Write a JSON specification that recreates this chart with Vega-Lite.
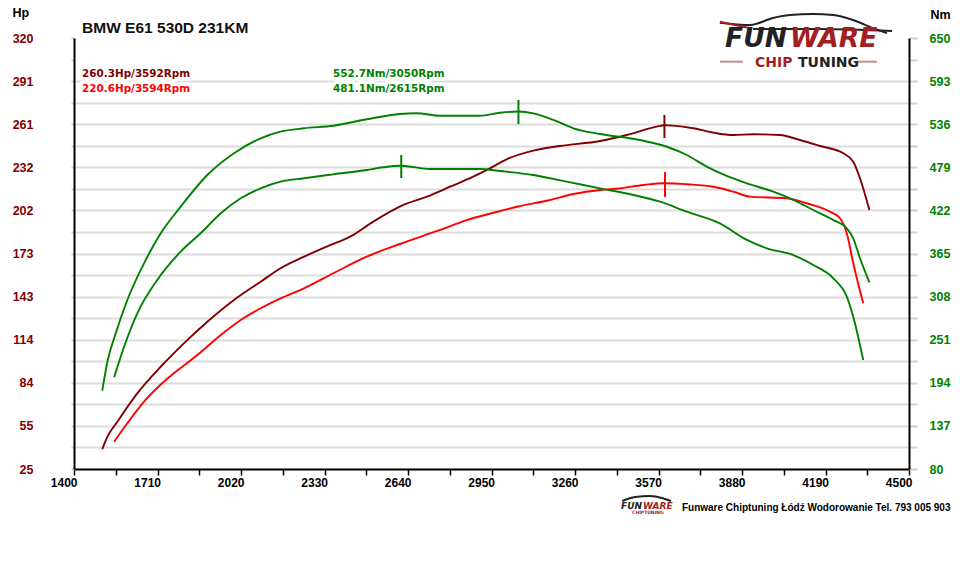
{
  "$schema": "https://vega.github.io/schema/vega-lite/v6.json",
  "description": "Dyno chart BMW E61 530D, power and torque, stock and tuned",
  "width": 835,
  "height": 431,
  "autosize": "none",
  "padding": {"left": 74, "top": 38, "right": 51, "bottom": 108},
  "background": "white",
  "config": {
    "view": {"stroke": null},
    "axis": {
      "labelFont": "Liberation Sans",
      "labelFontWeight": "bold",
      "titleFont": "Liberation Sans",
      "titleFontWeight": "bold",
      "titleColor": "black",
      "labelFlush": false,
      "labelOverlap": false,
      "domainColor": "black",
      "domainWidth": 2
    }
  },
  "datasets": {
    "hp": [
      {"series": "tuned", "rpm": 1505, "hp": 38.5},
      {"series": "tuned", "rpm": 1524, "hp": 47.1},
      {"series": "tuned", "rpm": 1561, "hp": 57.4},
      {"series": "tuned", "rpm": 1635, "hp": 76.8},
      {"series": "tuned", "rpm": 1722, "hp": 95.0},
      {"series": "tuned", "rpm": 1808, "hp": 111.0},
      {"series": "tuned", "rpm": 1895, "hp": 125.8},
      {"series": "tuned", "rpm": 1994, "hp": 140.7},
      {"series": "tuned", "rpm": 2093, "hp": 153.2},
      {"series": "tuned", "rpm": 2167, "hp": 162.4},
      {"series": "tuned", "rpm": 2254, "hp": 170.3},
      {"series": "tuned", "rpm": 2338, "hp": 177.2},
      {"series": "tuned", "rpm": 2425, "hp": 184.0},
      {"series": "tuned", "rpm": 2511, "hp": 194.3},
      {"series": "tuned", "rpm": 2623, "hp": 205.7},
      {"series": "tuned", "rpm": 2710, "hp": 211.4},
      {"series": "tuned", "rpm": 2796, "hp": 218.2},
      {"series": "tuned", "rpm": 2882, "hp": 225.1},
      {"series": "tuned", "rpm": 2944, "hp": 230.8},
      {"series": "tuned", "rpm": 3006, "hp": 237.0},
      {"series": "tuned", "rpm": 3105, "hp": 242.9},
      {"series": "tuned", "rpm": 3204, "hp": 246.1},
      {"series": "tuned", "rpm": 3353, "hp": 249.5},
      {"series": "tuned", "rpm": 3452, "hp": 253.6},
      {"series": "tuned", "rpm": 3563, "hp": 259.3},
      {"series": "tuned", "rpm": 3592, "hp": 260.3},
      {"series": "tuned", "rpm": 3625, "hp": 260.0},
      {"series": "tuned", "rpm": 3699, "hp": 258.2},
      {"series": "tuned", "rpm": 3774, "hp": 255.2},
      {"series": "tuned", "rpm": 3848, "hp": 253.6},
      {"series": "tuned", "rpm": 3922, "hp": 254.1},
      {"series": "tuned", "rpm": 4021, "hp": 253.6},
      {"series": "tuned", "rpm": 4095, "hp": 250.2},
      {"series": "tuned", "rpm": 4170, "hp": 246.1},
      {"series": "tuned", "rpm": 4256, "hp": 241.1},
      {"series": "tuned", "rpm": 4293, "hp": 235.3},
      {"series": "tuned", "rpm": 4318, "hp": 224.0},
      {"series": "tuned", "rpm": 4353, "hp": 202.3},
      {"series": "stock", "rpm": 1549, "hp": 43.7},
      {"series": "stock", "rpm": 1598, "hp": 56.3},
      {"series": "stock", "rpm": 1660, "hp": 71.1},
      {"series": "stock", "rpm": 1734, "hp": 84.8},
      {"series": "stock", "rpm": 1858, "hp": 103.0},
      {"series": "stock", "rpm": 1945, "hp": 116.7},
      {"series": "stock", "rpm": 2019, "hp": 127.0},
      {"series": "stock", "rpm": 2093, "hp": 135.0},
      {"series": "stock", "rpm": 2167, "hp": 141.8},
      {"series": "stock", "rpm": 2254, "hp": 148.7},
      {"series": "stock", "rpm": 2363, "hp": 159.0},
      {"series": "stock", "rpm": 2487, "hp": 170.3},
      {"series": "stock", "rpm": 2610, "hp": 179.0},
      {"series": "stock", "rpm": 2759, "hp": 188.6},
      {"series": "stock", "rpm": 2858, "hp": 195.4},
      {"series": "stock", "rpm": 2957, "hp": 200.4},
      {"series": "stock", "rpm": 3044, "hp": 204.5},
      {"series": "stock", "rpm": 3167, "hp": 209.1},
      {"series": "stock", "rpm": 3254, "hp": 213.2},
      {"series": "stock", "rpm": 3353, "hp": 216.0},
      {"series": "stock", "rpm": 3427, "hp": 217.1},
      {"series": "stock", "rpm": 3514, "hp": 219.4},
      {"series": "stock", "rpm": 3594, "hp": 220.6},
      {"series": "stock", "rpm": 3675, "hp": 219.9},
      {"series": "stock", "rpm": 3774, "hp": 218.2},
      {"series": "stock", "rpm": 3848, "hp": 214.8},
      {"series": "stock", "rpm": 3910, "hp": 211.4},
      {"series": "stock", "rpm": 4046, "hp": 210.3},
      {"series": "stock", "rpm": 4120, "hp": 206.9},
      {"series": "stock", "rpm": 4207, "hp": 201.1},
      {"series": "stock", "rpm": 4244, "hp": 196.6},
      {"series": "stock", "rpm": 4269, "hp": 186.3},
      {"series": "stock", "rpm": 4293, "hp": 165.8},
      {"series": "stock", "rpm": 4330, "hp": 138.4}
    ],
    "nm": [
      {"series": "tuned", "rpm": 1505, "nm": 183.6},
      {"series": "tuned", "rpm": 1524, "nm": 221.9},
      {"series": "tuned", "rpm": 1555, "nm": 259.5},
      {"series": "tuned", "rpm": 1598, "nm": 303.5},
      {"series": "tuned", "rpm": 1660, "nm": 352.0},
      {"series": "tuned", "rpm": 1722, "nm": 391.7},
      {"series": "tuned", "rpm": 1796, "nm": 426.9},
      {"series": "tuned", "rpm": 1895, "nm": 468.8},
      {"series": "tuned", "rpm": 1994, "nm": 497.5},
      {"series": "tuned", "rpm": 2093, "nm": 517.4},
      {"series": "tuned", "rpm": 2167, "nm": 526.1},
      {"series": "tuned", "rpm": 2254, "nm": 530.6},
      {"series": "tuned", "rpm": 2363, "nm": 534.0},
      {"series": "tuned", "rpm": 2487, "nm": 542.5},
      {"series": "tuned", "rpm": 2610, "nm": 549.5},
      {"series": "tuned", "rpm": 2672, "nm": 550.4},
      {"series": "tuned", "rpm": 2759, "nm": 547.2},
      {"series": "tuned", "rpm": 2907, "nm": 547.2},
      {"series": "tuned", "rpm": 2982, "nm": 551.2},
      {"series": "tuned", "rpm": 3050, "nm": 552.7},
      {"series": "tuned", "rpm": 3105, "nm": 550.4},
      {"series": "tuned", "rpm": 3180, "nm": 541.6},
      {"series": "tuned", "rpm": 3254, "nm": 530.6},
      {"series": "tuned", "rpm": 3353, "nm": 523.0},
      {"series": "tuned", "rpm": 3501, "nm": 515.1},
      {"series": "tuned", "rpm": 3601, "nm": 506.2},
      {"series": "tuned", "rpm": 3675, "nm": 495.3},
      {"series": "tuned", "rpm": 3749, "nm": 479.8},
      {"series": "tuned", "rpm": 3823, "nm": 467.5},
      {"series": "tuned", "rpm": 3898, "nm": 457.8},
      {"series": "tuned", "rpm": 3996, "nm": 446.7},
      {"series": "tuned", "rpm": 4071, "nm": 435.8},
      {"series": "tuned", "rpm": 4145, "nm": 422.5},
      {"series": "tuned", "rpm": 4219, "nm": 409.3},
      {"series": "tuned", "rpm": 4269, "nm": 398.3},
      {"series": "tuned", "rpm": 4293, "nm": 385.1},
      {"series": "tuned", "rpm": 4318, "nm": 358.7},
      {"series": "tuned", "rpm": 4353, "nm": 326.9},
      {"series": "stock", "rpm": 1549, "nm": 201.3},
      {"series": "stock", "rpm": 1586, "nm": 241.7},
      {"series": "stock", "rpm": 1635, "nm": 285.9},
      {"series": "stock", "rpm": 1709, "nm": 330.0},
      {"series": "stock", "rpm": 1796, "nm": 367.4},
      {"series": "stock", "rpm": 1870, "nm": 391.7},
      {"series": "stock", "rpm": 1945, "nm": 418.2},
      {"series": "stock", "rpm": 2019, "nm": 438.0},
      {"series": "stock", "rpm": 2093, "nm": 451.2},
      {"series": "stock", "rpm": 2167, "nm": 460.0},
      {"series": "stock", "rpm": 2254, "nm": 464.5},
      {"series": "stock", "rpm": 2363, "nm": 469.7},
      {"series": "stock", "rpm": 2487, "nm": 475.4},
      {"series": "stock", "rpm": 2548, "nm": 479.0},
      {"series": "stock", "rpm": 2615, "nm": 481.1},
      {"series": "stock", "rpm": 2722, "nm": 476.8},
      {"series": "stock", "rpm": 2907, "nm": 476.8},
      {"series": "stock", "rpm": 2982, "nm": 474.1},
      {"series": "stock", "rpm": 3105, "nm": 468.8},
      {"series": "stock", "rpm": 3229, "nm": 460.0},
      {"series": "stock", "rpm": 3353, "nm": 451.2},
      {"series": "stock", "rpm": 3477, "nm": 442.4},
      {"series": "stock", "rpm": 3576, "nm": 433.5},
      {"series": "stock", "rpm": 3675, "nm": 420.3},
      {"series": "stock", "rpm": 3798, "nm": 404.9},
      {"series": "stock", "rpm": 3898, "nm": 382.9},
      {"series": "stock", "rpm": 3972, "nm": 371.9},
      {"series": "stock", "rpm": 4071, "nm": 363.0},
      {"series": "stock", "rpm": 4145, "nm": 349.8},
      {"series": "stock", "rpm": 4219, "nm": 332.2},
      {"series": "stock", "rpm": 4269, "nm": 307.9},
      {"series": "stock", "rpm": 4293, "nm": 281.4},
      {"series": "stock", "rpm": 4330, "nm": 224.2}
    ],
    "hpPeaks": [
      {"series": "tuned", "rpm": 3592, "hp": 251.6, "hp2": 267.3},
      {"series": "stock", "rpm": 3594, "hp": 211.2, "hp2": 228.3}
    ],
    "nmPeaks": [
      {"series": "tuned", "rpm": 3050, "nm": 536.3, "nm2": 568.0},
      {"series": "stock", "rpm": 2615, "nm": 464.8, "nm2": 495.3}
    ],
    "heading": [
      {"label": "BMW E61 530D 231KM", "rpm": 1430, "hp": 323.4}
    ],
    "notes": [
      {"series": "tuned", "label": "260.3Hp/3592Rpm", "rpm": 1430, "hp": 295.4},
      {"series": "stock", "label": "220.6Hp/3594Rpm", "rpm": 1430, "hp": 285.1},
      {"series": "nm", "label": "552.7Nm/3050Rpm", "rpm": 2362, "hp": 295.4},
      {"series": "nm", "label": "481.1Nm/2615Rpm", "rpm": 2362, "hp": 285.1}
    ],
    "vgrid": [
      {"rpm": 1555}, {"rpm": 1710}, {"rpm": 1865}, {"rpm": 2020}, {"rpm": 2175},
      {"rpm": 2330}, {"rpm": 2485}, {"rpm": 2640}, {"rpm": 2795}, {"rpm": 2950},
      {"rpm": 3105}, {"rpm": 3260}, {"rpm": 3415}, {"rpm": 3570}, {"rpm": 3725},
      {"rpm": 3880}, {"rpm": 4035}, {"rpm": 4190}, {"rpm": 4345}
    ],
    "logoLines": [
      {"piece": "roof", "tone": "dark", "rpm": 3798, "hp": 330.5},
      {"piece": "roof", "tone": "dark", "rpm": 3910, "hp": 328.9},
      {"piece": "roof", "tone": "dark", "rpm": 3995, "hp": 333.7},
      {"piece": "roof", "tone": "dark", "rpm": 4058, "hp": 335.7},
      {"piece": "roof", "tone": "dark", "rpm": 4144, "hp": 336.4},
      {"piece": "roof", "tone": "dark", "rpm": 4218, "hp": 335.7},
      {"piece": "roof", "tone": "dark", "rpm": 4292, "hp": 332.3},
      {"piece": "roof", "tone": "dark", "rpm": 4366, "hp": 326.8},
      {"piece": "roof", "tone": "dark", "rpm": 4418, "hp": 323.4},
      {"piece": "body", "tone": "dark", "rpm": 3921, "hp": 326.2},
      {"piece": "body", "tone": "dark", "rpm": 4170, "hp": 326.2},
      {"piece": "body", "tone": "dark", "rpm": 4437, "hp": 324.8},
      {"piece": "swoosh", "tone": "red", "rpm": 3798, "hp": 331.2},
      {"piece": "swoosh", "tone": "red", "rpm": 3854, "hp": 328.9},
      {"piece": "swoosh", "tone": "red", "rpm": 3917, "hp": 326.5},
      {"piece": "dashL", "tone": "fade", "rpm": 3798, "hp": 303.8},
      {"piece": "dashL", "tone": "fade", "rpm": 3884, "hp": 303.8},
      {"piece": "dashR", "tone": "fade", "rpm": 4307, "hp": 303.8},
      {"piece": "dashR", "tone": "fade", "rpm": 4381, "hp": 303.8},
      {"piece": "footRoof", "tone": "dark", "rpm": 3435, "hp": 3.1},
      {"piece": "footRoof", "tone": "dark", "rpm": 3483, "hp": 5.8},
      {"piece": "footRoof", "tone": "dark", "rpm": 3539, "hp": 6.5},
      {"piece": "footRoof", "tone": "dark", "rpm": 3583, "hp": 5.2},
      {"piece": "footRoof", "tone": "dark", "rpm": 3616, "hp": 3.1}
    ],
    "logoText": [
      {"part": "name", "word": "FUN", "tone": "dark", "rpm": 3817, "hp": 313.8},
      {"part": "name", "word": "WARE", "tone": "red", "rpm": 4058, "hp": 313.8},
      {"part": "tag", "word": "CHIP", "tone": "red", "rpm": 3928, "hp": 300.1},
      {"part": "tag", "word": "TUNING", "tone": "dark", "rpm": 4088, "hp": 300.1},
      {"part": "footName", "word": "FUN", "tone": "dark", "rpm": 3431, "hp": -2.4},
      {"part": "footName", "word": "WARE", "tone": "red", "rpm": 3512, "hp": -2.4},
      {"part": "footTag", "word": "CHIPTUNING", "tone": "red", "rpm": 3472, "hp": -5.8}
    ]
  },
  "encoding": {
    "x": {
      "field": "rpm", "type": "quantitative",
      "scale": {"domain": [1400, 4500], "nice": false, "zero": false},
      "axis": {
        "values": [1400, 1555, 1710, 1865, 2020, 2175, 2330, 2485, 2640, 2795, 2950, 3105, 3260, 3415, 3570, 3725, 3880, 4035, 4190, 4345, 4500],
        "labelExpr": "(datum.value - 1400) % 310 == 0 ? '' + datum.value : ''",
        "labelAlign": "right",
        "labelOffset": 3,
        "labelFontSize": 12,
        "labelColor": "black",
        "labelPadding": 2,
        "tickSize": 6,
        "tickColor": "black",
        "tickWidth": 1.5,
        "grid": false,
        "title": "Funware Chiptuning Łódź Wodorowanie Tel. 793 005 903",
        "titleX": 876,
        "titleY": 41,
        "titleAlign": "right",
        "titleBaseline": "alphabetic",
        "titleFontSize": 10
      }
    }
  },
  "layer": [
    {
      "encoding": {
        "y": {
          "field": "hp", "type": "quantitative",
          "scale": {"domain": [25, 320], "nice": false, "zero": false},
          "axis": {
            "values": [25, 39.75, 54.5, 69.25, 84, 98.75, 113.5, 128.25, 143, 157.75, 172.5, 187.25, 202, 216.75, 231.5, 246.25, 261, 275.75, 290.5, 305.25, 320],
            "labelExpr": "(datum.value - 25) % 29.5 == 0 ? '' + round(datum.value) : ''",
            "labelColor": "#800000",
            "labelFontSize": 12.5,
            "labelPadding": 38,
            "tickSize": 3,
            "tickColor": "#d0d0d0",
            "tickWidth": 2,
            "grid": true,
            "gridColor": "#dcdcdc",
            "gridWidth": 2,
            "gridOpacity": {"condition": {"test": "datum.value > 300", "value": 0}, "value": 1},
            "title": "Hp",
            "titleAngle": 0,
            "titleAlign": "left",
            "titleBaseline": "alphabetic",
            "titleX": -62,
            "titleY": -22,
            "titleFontSize": 12.5
          }
        }
      },
      "layer": [
        {
          "data": {"name": "vgrid"},
          "mark": {"type": "rule", "color": "#d6d6d6", "strokeWidth": 2},
          "encoding": {
            "y": {
              "datum": 25, "type": "quantitative",
              "scale": {"domain": [25, 320], "nice": false, "zero": false},
              "axis": {
                "values": [25, 39.75, 54.5, 69.25, 84, 98.75, 113.5, 128.25, 143, 157.75, 172.5, 187.25, 202, 216.75, 231.5, 246.25, 261, 275.75, 290.5, 305.25, 320],
                "labelExpr": "(datum.value - 25) % 29.5 == 0 ? '' + round(datum.value) : ''",
                "labelColor": "#800000",
                "labelFontSize": 12.5,
                "labelPadding": 38,
                "tickSize": 3,
                "tickColor": "#d0d0d0",
                "tickWidth": 2,
                "grid": true,
                "gridColor": "#dcdcdc",
                "gridWidth": 2,
                "gridOpacity": {"condition": {"test": "datum.value > 300", "value": 0}, "value": 1},
                "title": "Hp",
                "titleAngle": 0,
                "titleAlign": "left",
                "titleBaseline": "alphabetic",
                "titleX": -62,
                "titleY": -22,
                "titleFontSize": 12.5
              }
            },
            "y2": {"datum": 301}
          }
        },
        {
          "data": {"name": "hp"},
          "mark": {"type": "line", "strokeWidth": 1.9, "interpolate": "monotone"},
          "encoding": {
            "color": {"field": "series", "type": "nominal", "scale": {"domain": ["tuned", "stock"], "range": ["#800000", "#ff0000"]}, "legend": null}
          }
        },
        {
          "data": {"name": "hpPeaks"},
          "mark": {"type": "rule", "strokeWidth": 2},
          "encoding": {
            "y2": {"field": "hp2"},
            "color": {"field": "series", "type": "nominal", "scale": {"domain": ["tuned", "stock"], "range": ["#800000", "#ff0000"]}, "legend": null}
          }
        },
        {
          "data": {"name": "notes"},
          "mark": {"type": "text", "align": "left", "baseline": "middle", "font": "DejaVu Sans", "fontWeight": "bold", "fontSize": 10.4, "fill": "white", "stroke": "white", "strokeWidth": 7, "strokeJoin": "round"},
          "encoding": {
            "text": {"field": "label"}
          }
        },
        {
          "data": {"name": "notes"},
          "mark": {"type": "text", "align": "left", "baseline": "middle", "font": "DejaVu Sans", "fontWeight": "bold", "fontSize": 10.4},
          "encoding": {
            "text": {"field": "label"},
            "color": {"field": "series", "type": "nominal", "scale": {"domain": ["tuned", "stock", "nm"], "range": ["#800000", "#ff0000", "#008000"]}, "legend": null}
          }
        },
        {
          "data": {"name": "heading"},
          "mark": {"type": "text", "align": "left", "baseline": "alphabetic", "font": "Liberation Sans", "fontWeight": "bold", "fontSize": 15.5, "color": "#111111", "clip": false},
          "encoding": {
            "text": {"field": "label"}
          }
        },
        {
          "data": {"name": "logoLines"},
          "mark": {"type": "line", "strokeWidth": 2, "clip": false, "interpolate": "monotone"},
          "encoding": {
            "detail": {"field": "piece"},
            "color": {"field": "tone", "type": "nominal", "scale": {"domain": ["dark", "red", "fade"], "range": ["#222222", "#a31e22", "#c98a8a"]}, "legend": null}
          }
        },
        {
          "data": {"name": "logoText"},
          "transform": [{"filter": {"field": "part", "equal": "name"}}],
          "mark": {"type": "text", "align": "left", "baseline": "alphabetic", "font": "DejaVu Sans", "fontWeight": "bold", "fontStyle": "italic", "fontSize": 26.5, "clip": false},
          "encoding": {
            "text": {"field": "word"},
            "color": {"field": "tone", "type": "nominal", "scale": {"domain": ["dark", "red", "fade"], "range": ["#222222", "#a31e22", "#c98a8a"]}, "legend": null}
          }
        },
        {
          "data": {"name": "logoText"},
          "transform": [{"filter": {"field": "part", "equal": "tag"}}],
          "mark": {"type": "text", "align": "left", "baseline": "alphabetic", "font": "DejaVu Sans", "fontWeight": "bold", "fontSize": 14, "clip": false},
          "encoding": {
            "text": {"field": "word"},
            "color": {"field": "tone", "type": "nominal", "scale": {"domain": ["dark", "red", "fade"], "range": ["#222222", "#a31e22", "#c98a8a"]}, "legend": null}
          }
        },
        {
          "data": {"name": "logoText"},
          "transform": [{"filter": {"field": "part", "equal": "footName"}}],
          "mark": {"type": "text", "align": "left", "baseline": "alphabetic", "font": "DejaVu Sans", "fontWeight": "bold", "fontStyle": "italic", "fontSize": 9, "clip": false},
          "encoding": {
            "text": {"field": "word"},
            "color": {"field": "tone", "type": "nominal", "scale": {"domain": ["dark", "red", "fade"], "range": ["#222222", "#a31e22", "#c98a8a"]}, "legend": null}
          }
        },
        {
          "data": {"name": "logoText"},
          "transform": [{"filter": {"field": "part", "equal": "footTag"}}],
          "mark": {"type": "text", "align": "left", "baseline": "alphabetic", "font": "DejaVu Sans", "fontWeight": "bold", "fontSize": 4.5, "clip": false},
          "encoding": {
            "text": {"field": "word"},
            "color": {"field": "tone", "type": "nominal", "scale": {"domain": ["dark", "red", "fade"], "range": ["#222222", "#a31e22", "#c98a8a"]}, "legend": null}
          }
        }
      ],
      "resolve": {"scale": {"color": "independent"}}
    },
    {
      "encoding": {
        "y": {
          "field": "nm", "type": "quantitative",
          "scale": {"domain": [80, 650], "nice": false, "zero": false},
          "axis": {
            "orient": "right",
            "values": [80, 108.5, 137, 165.5, 194, 222.5, 251, 279.5, 308, 336.5, 365, 393.5, 422, 450.5, 479, 507.5, 536, 564.5, 593, 621.5, 650],
            "labelExpr": "(datum.value - 80) % 57 == 0 ? '' + datum.value : ''",
            "labelColor": "#008000",
            "labelFontSize": 12.5,
            "labelPadding": 12,
            "tickSize": 8,
            "tickColor": "#d0d0d0",
            "tickWidth": 2,
            "grid": false,
            "title": "Nm",
            "titleAngle": 0,
            "titleAlign": "left",
            "titleBaseline": "alphabetic",
            "titleX": 21,
            "titleY": -20,
            "titleFontSize": 12.5
          }
        }
      },
      "layer": [
        {
          "data": {"name": "nm"},
          "mark": {"type": "line", "strokeWidth": 1.9, "interpolate": "monotone", "color": "#008000"},
          "encoding": {
            "detail": {"field": "series"}
          }
        },
        {
          "data": {"name": "nmPeaks"},
          "mark": {"type": "rule", "strokeWidth": 2, "color": "#008000"},
          "encoding": {
            "y2": {"field": "nm2"}
          }
        }
      ]
    }
  ],
  "resolve": {"scale": {"y": "independent", "color": "independent"}}
}
